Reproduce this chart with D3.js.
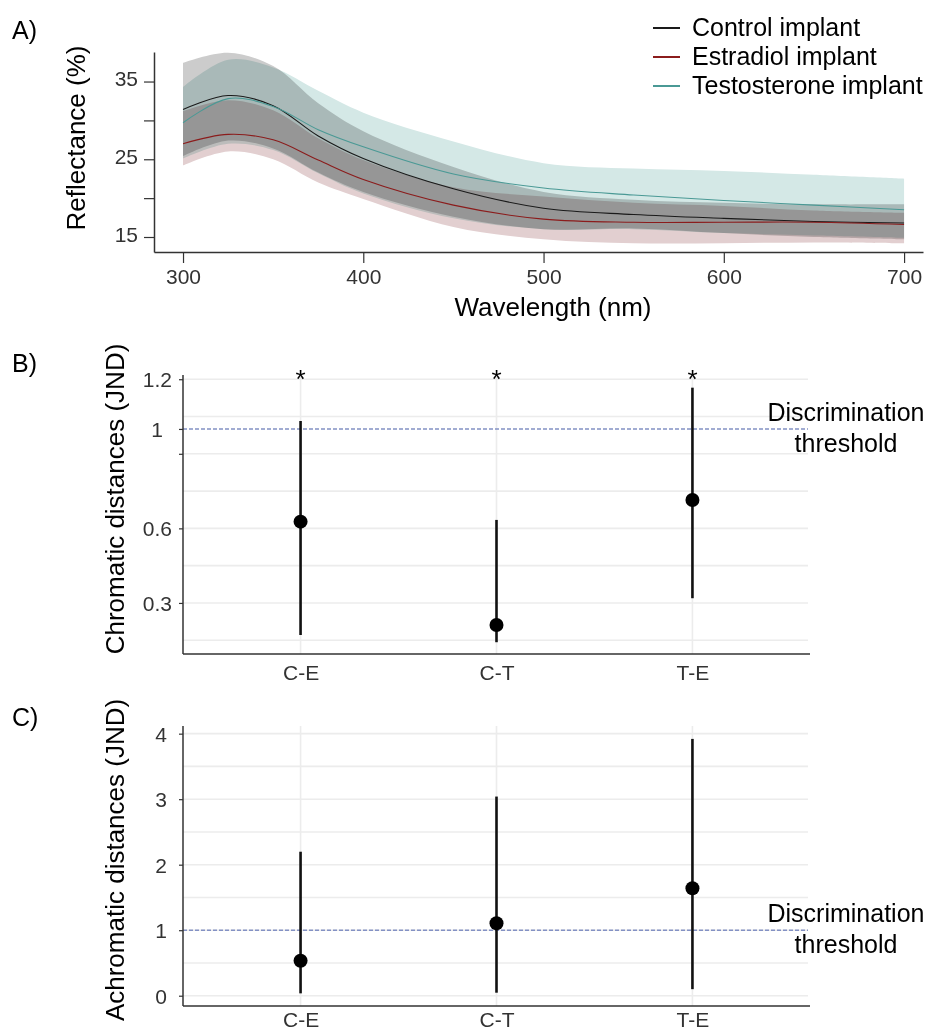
<!DOCTYPE html>
<html>
<head>
<meta charset="utf-8">
<script src="https://cdn.jsdelivr.net/npm/d3@7"></script>
<style>
  body { margin: 0; background: #fff; }
  svg { font-family: "Liberation Sans", Arial, sans-serif; }
  .band { mix-blend-mode: multiply; }
</style>
</head>
<body>
<script>
const width = 937;
const height = 1034;

// panel A: reflectance spectra (mean and band)
const wavelengths = [300, 325, 350, 375, 400, 450, 500, 550, 600, 650, 700];
const controlMean = [31.4, 33.2, 31.9, 28.0, 25.1, 21.2, 18.7, 17.9, 17.4, 17.0, 16.8];
const controlLow  = [25.4, 27.4, 26.4, 23.3, 20.8, 17.6, 16.0, 16.1, 15.5, 15.0, 14.7];
const controlHigh = [37.4, 38.7, 37.0, 32.2, 28.6, 24.0, 20.8, 19.8, 19.4, 19.2, 19.2];
const estradiolMean = [27.0, 28.2, 27.5, 24.9, 22.4, 19.1, 17.3, 16.9, 16.9, 16.9, 16.6];
const estradiolLow  = [24.2, 26.0, 25.0, 22.0, 19.9, 16.3, 14.7, 14.2, 14.2, 14.3, 14.2];
const estradiolHigh = [31.2, 32.6, 31.3, 27.7, 24.9, 21.4, 20.2, 19.4, 19.0, 18.4, 18.1];
const testoMean = [29.7, 32.8, 31.8, 28.8, 26.6, 23.1, 21.3, 20.4, 19.7, 19.1, 18.5];
const testoLow  = [25.1, 27.0, 26.2, 23.2, 20.6, 17.4, 16.0, 16.0, 15.5, 15.2, 14.9];
const testoHigh = [34.3, 37.8, 36.8, 33.8, 31.0, 27.3, 24.5, 23.8, 23.5, 23.0, 22.5];
const groupNames = ["Control implant", "Estradiol implant", "Testosterone implant"];
const wlTicks = [300, 400, 500, 600, 700];
const reflTicks = [15, 20, 25, 30, 35];

// panels B and C: pairwise distances
const pairs = ["C-E", "C-T", "T-E"];
const chromMean = [0.627, 0.211, 0.714];
const chromLow  = [0.171, 0.142, 0.319];
const chromHigh = [1.032, 0.634, 1.166];
const chromSignif = ["*", "*", "*"];
const chromTicks = [0.3, 0.6, 0.9, 1, 1.2];
const chromTickLabels = ["0.3", "0.6", "", "1", "1.2"];
const achromMean = [0.534, 1.105, 1.64];
const achromLow  = [0.036, 0.046, 0.10];
const achromHigh = [2.198, 3.04, 3.92];
const achromTicks = [0, 1, 2, 3, 4];
const threshold = 1;

const svg = d3.select("body").append("svg")
    .attr("width", width)
    .attr("height", height);

// ---------------- Panel A ----------------
const xA = d3.scaleLinear().domain([283.9, 710.5]).range([154, 923]);
const yA = d3.scaleLinear().domain([13.07, 38.8]).range([252, 52]);

const groups = [
  { name: groupNames[0], mean: controlMean, low: controlLow, high: controlHigh, band: "#cccccc", line: "#1a1a1a" },
  { name: groupNames[1], mean: estradiolMean, low: estradiolLow, high: estradiolHigh, band: "#e2cfd0", line: "#8b1c1c" },
  { name: groupNames[2], mean: testoMean, low: testoLow, high: testoHigh, band: "#d4e8e6", line: "#4a9995" }
];

const area = d3.area()
    .x(d => xA(d.wl))
    .y0(d => yA(d.lo))
    .y1(d => yA(d.hi))
    .curve(d3.curveCatmullRom.alpha(0.5));
const line = d3.line()
    .x(d => xA(d.wl))
    .y(d => yA(d.m))
    .curve(d3.curveCatmullRom.alpha(0.5));

const gA = svg.append("g");
groups.forEach(g => {
  const pts = wavelengths.map((w, i) => ({ wl: w, m: g.mean[i], lo: g.low[i], hi: g.high[i] }));
  g.pts = pts;
  gA.append("path").attr("class", "band").attr("d", area(pts)).attr("fill", g.band);
});
groups.forEach(g => {
  gA.append("path").attr("d", line(g.pts))
    .attr("fill", "none").attr("stroke", g.line).attr("stroke-width", 1.1);
});

const axA_x = svg.append("g").attr("transform", "translate(0,252)")
    .call(d3.axisBottom(xA).tickValues(wlTicks).tickSize(11).tickSizeOuter(0).tickPadding(6));
const axA_y = svg.append("g").attr("transform", "translate(154,0)")
    .call(d3.axisLeft(yA).tickValues(reflTicks).tickSize(10).tickSizeOuter(0).tickPadding(6)
      .tickFormat(d => (d % 10 === 5 ? d : "")));
[axA_x, axA_y].forEach(ax => {
  ax.select(".domain").attr("stroke", "#333").attr("stroke-width", 1.5);
  ax.selectAll(".tick line").attr("stroke", "#333").attr("stroke-width", 1.2);
  ax.selectAll(".tick text").attr("font-size", 21).attr("fill", "#333")
    .attr("font-family", "Liberation Sans, Arial, sans-serif");
});
axA_y.selectAll(".tick text").attr("dy", "0.2em");
axA_x.selectAll(".tick text").attr("dy", "0.72em");

svg.append("text").attr("x", 553).attr("y", 316).attr("text-anchor", "middle")
    .attr("font-size", 26).text("Wavelength (nm)");
svg.append("text").attr("transform", "translate(85,138) rotate(-90)")
    .attr("text-anchor", "middle").attr("font-size", 26).text("Reflectance (%)");
svg.append("text").attr("x", 12).attr("y", 39).attr("font-size", 25).text("A)");

// legend
const leg = svg.append("g");
groups.forEach((g, i) => {
  const y = 28 + i * 29;
  leg.append("line").attr("x1", 653).attr("x2", 680).attr("y1", y).attr("y2", y)
    .attr("stroke", g.line).attr("stroke-width", 2);
  leg.append("text").attr("x", 692).attr("y", y).attr("dy", "0.33em")
    .attr("font-size", 25).text(g.name);
});

// ---------------- Panels B and C ----------------
function distancePanel(opt) {
  const x = d3.scalePoint().domain(pairs).range([183, 810]).padding(0.6);
  const y = d3.scaleLinear().domain(opt.domain).range([opt.bottom, opt.top]);
  const g = svg.append("g");

  // grid
  g.selectAll(".hgrid").data(opt.grid).enter().append("line")
    .attr("x1", 183).attr("x2", 808)
    .attr("y1", d => y(d)).attr("y2", d => y(d))
    .attr("stroke", "#ececec").attr("stroke-width", 1.6);
  g.selectAll(".vgrid").data(pairs).enter().append("line")
    .attr("x1", d => x(d)).attr("x2", d => x(d))
    .attr("y1", opt.top).attr("y2", opt.bottom)
    .attr("stroke", "#ececec").attr("stroke-width", 1.6);

  // threshold
  g.append("line").attr("x1", 183).attr("x2", 808)
    .attr("y1", y(threshold)).attr("y2", y(threshold))
    .attr("stroke", "#8391c4").attr("stroke-width", 1.5).attr("stroke-dasharray", "4,2");
  g.append("text").attr("x", 846).attr("y", y(threshold) + opt.labelShift)
    .attr("text-anchor", "middle").attr("font-size", 25)
    .selectAll("tspan").data(["Discrimination", "threshold"]).enter().append("tspan")
    .attr("x", 846).attr("dy", (d, i) => (i === 0 ? 0 : 31)).text(d => d);

  // error bars and points
  g.selectAll(".bar").data(pairs).enter().append("line")
    .attr("x1", d => x(d)).attr("x2", d => x(d))
    .attr("y1", (d, i) => y(opt.low[i])).attr("y2", (d, i) => y(opt.high[i]))
    .attr("stroke", "#111").attr("stroke-width", 2.6);
  g.selectAll(".pt").data(pairs).enter().append("circle")
    .attr("cx", d => x(d)).attr("cy", (d, i) => y(opt.mean[i]))
    .attr("r", 7).attr("fill", "#000");

  if (opt.signif) {
    g.selectAll(".sig").data(pairs).enter().append("text")
      .attr("x", d => x(d)).attr("y", opt.top + 13)
      .attr("text-anchor", "middle").attr("font-size", 26)
      .text((d, i) => opt.signif[i]);
  }

  // axes
  const axX = g.append("g").attr("transform", `translate(0,${opt.bottom})`)
    .call(d3.axisBottom(x).tickSize(0).tickPadding(opt.xPad));
  axX.selectAll(".tick text").attr("dy", "0.72em");
  axX.select(".domain").attr("d", `M183,0H810`);
  const axY = g.append("g").attr("transform", "translate(183,0)")
    .call(d3.axisLeft(y).tickValues(opt.ticks).tickSize(4).tickSizeOuter(0).tickPadding(opt.pad)
      .tickFormat((d, i) => opt.tickLabels[i]));
  axY.select(".domain").attr("d", `M0,${opt.top}V${opt.bottom}`);
  axY.selectAll(".tick text").attr("dy", "0.36em")
    .attr("dx", d => (opt.shiftOne && d === 1 ? -9 : 0));
  [axX, axY].forEach(ax => {
    ax.select(".domain").attr("stroke", "#333").attr("stroke-width", 1.5);
    ax.selectAll(".tick line").attr("stroke", "#333").attr("stroke-width", 1.2);
    ax.selectAll(".tick text").attr("font-size", 21).attr("fill", "#333")
      .attr("font-family", "Liberation Sans, Arial, sans-serif");
  });

  svg.append("text").attr("transform", `translate(124,${opt.titleY}) rotate(-90)`)
    .attr("text-anchor", "middle").attr("font-size", 26).text(opt.title);
  svg.append("text").attr("x", 12).attr("y", opt.tagY).attr("font-size", 25).text(opt.tag);
}

distancePanel({
  domain: [0.0946, 1.217], top: 375, bottom: 654,
  grid: d3.range(1, 9).map(k => k * 0.15),
  mean: chromMean, low: chromLow, high: chromHigh, signif: chromSignif,
  ticks: chromTicks, tickLabels: chromTickLabels, pad: 7, xPad: 11, shiftOne: true,
  labelShift: -8, title: "Chromatic distances (JND)", titleY: 499, tag: "B)", tagY: 372
});

distancePanel({
  domain: [-0.157, 4.117], top: 726, bottom: 1006,
  grid: d3.range(0, 9).map(k => k * 0.5),
  mean: achromMean, low: achromLow, high: achromHigh, signif: null,
  ticks: achromTicks, tickLabels: achromTicks.map(String), pad: 12, xPad: 6, shiftOne: false,
  labelShift: -8, title: "Achromatic distances (JND)", titleY: 860, tag: "C)", tagY: 726
});
</script>
</body>
</html>
